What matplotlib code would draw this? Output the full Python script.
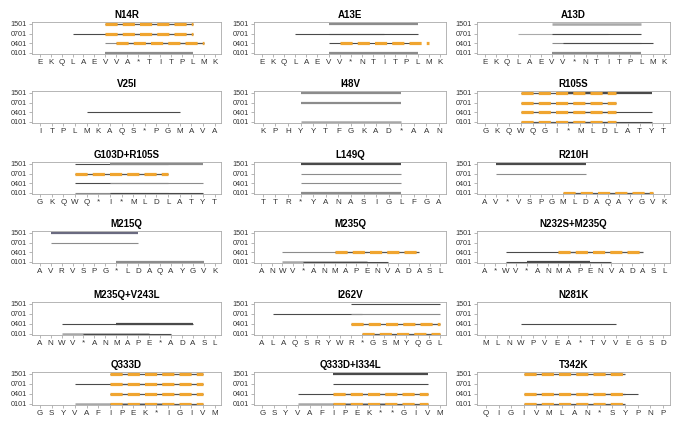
import matplotlib
matplotlib.use("Agg")
import matplotlib.pyplot as plt

plt.rcParams['font.family'] = ['Liberation Sans', 'DejaVu Sans']

alleles = ['0101', '0401', '0701', '1501']

titles = ['N14R', 'A13E', 'A13D',
          'V25I', 'I48V', 'R105S',
          'G103D+R105S', 'L149Q', 'R210H',
          'M215Q', 'M235Q', 'N232S+M235Q',
          'M235Q+V243L', 'I262V', 'N281K',
          'Q333D', 'Q333D+I334L', 'T342K']

residues = ['E K Q L A E V V A * T I T P L M K',
            'E K Q L A E V V * N T I T P L M K',
            'E K Q L A E V V * N T I T P L M K',
            'I T P L M K A Q S * P G M A V A',
            'K P H Y Y T F G K A D * A A N',
            'G K Q W Q G I * M L D L A T Y T',
            'G K Q W Q * I * M L D L A T Y T',
            'T T R * Y A N A S I G L F G A',
            'A V * V S P G M L D A Q A Y G V K',
            'A V R V S P G * L D A Q A Y G V K',
            'A N W V * A N M A P E N V A D A S L',
            'A * W V * A N M A P E N V A D A S L',
            'A N W V * A N M A P E * A D A S L',
            'A L A Q S R Y W R * G S M Y Q G L',
            'M L N W P V E A * T V V E G S D',
            'G S Y V A F I P E K * I G I V M',
            'G S Y V A F I P E K * * G I V M',
            'Q I G I V M L A N * S Y P N P']

# segments: (allele row, start residue index, end residue index, style)
seg_N14R = [(3, 6, 14, 'o'), (2, 3, 11, 'd'), (2, 6, 14, 'o'),
            (1, 6, 14, 'g'), (1, 7, 15, 'o'), (0, 6, 14, 'G')]
seg_A13E = [(3, 6, 14, 'G'), (2, 3, 11, 'd'), (2, 6, 14, 'd'),
            (1, 6, 14, 'd'), (1, 7, 15, 'O'), (0, 6, 14, 'G')]
seg_A13D = [(3, 6, 14, 'L'), (2, 3, 11, 'l'), (2, 6, 14, 'd'),
            (1, 6, 14, 'g'), (1, 7, 15, 'd'), (0, 6, 14, 'G')]
seg_V25I = [(1, 4, 12, 'd')]
seg_I48V = [(3, 3, 11, 'G'), (2, 3, 11, 'G'), (0, 3, 11, 'L')]
seg_R105S = [(3, 3, 11, 'o'), (3, 6, 14, 'D'), (2, 3, 11, 'o'),
             (1, 3, 11, 'o'), (1, 6, 14, 'd'), (0, 3, 11, 'o'), (0, 6, 14, 'd')]
seg_G103D = [(3, 3, 11, 'd'), (3, 6, 14, 'G'), (2, 3, 11, 'o'),
             (1, 3, 11, 'd'), (1, 6, 14, 'g'), (0, 3, 11, 'g'), (0, 6, 14, 'd')]
seg_L149Q = [(3, 3, 11, 'D'), (2, 3, 11, 'g'), (1, 3, 11, 'g'), (0, 3, 11, 'G')]
seg_R210H = [(3, 1, 9, 'D'), (2, 1, 9, 'g'), (0, 7, 15, 'o')]
seg_M215Q = [(3, 1, 9, 'B'), (2, 1, 9, 'g'), (0, 7, 15, 'G')]
seg_M235Q = [(1, 2, 10, 'g'), (1, 7, 15, 'o'), (0, 2, 10, 'L'), (0, 4, 12, 'd')]
seg_N232S = [(1, 2, 10, 'd'), (1, 7, 15, 'o'), (0, 2, 12, 'd'), (0, 4, 10, 'D')]
seg_M235V = [(1, 2, 14, 'd'), (1, 7, 14, 'D'), (0, 2, 10, 'L'), (0, 4, 12, 'd')]
seg_I262V = [(3, 8, 16, 'd'), (2, 1, 9, 'd'), (2, 8, 16, 'g'),
             (1, 8, 16, 'o'), (0, 9, 16, 'o')]
seg_N281K = [(1, 3, 11, 'd')]
seg_Q333D = [(3, 6, 14, 'o'), (2, 3, 11, 'd'), (2, 6, 14, 'o'),
             (1, 6, 14, 'o'), (0, 3, 11, 'L'), (0, 6, 14, 'o')]
seg_Q333DI = [(3, 6, 14, 'D'), (2, 6, 14, 'd'), (1, 3, 11, 'd'), (1, 6, 14, 'o'),
              (0, 3, 11, 'L'), (0, 6, 14, 'o')]
seg_T342K = [(3, 3, 11, 'o'), (1, 4, 12, 'd'), (1, 3, 11, 'o'),
             (0, 3, 11, 'o')]

segments = [seg_N14R, seg_A13E, seg_A13D, seg_V25I, seg_I48V, seg_R105S,
            seg_G103D, seg_L149Q, seg_R210H, seg_M215Q, seg_M235Q, seg_N232S,
            seg_M235V, seg_I262V, seg_N281K, seg_Q333D, seg_Q333DI, seg_T342K]

W, H = 683, 424
col_x = [(32, 221), (254, 446), (477, 670)]
row_y = [(22, 54), (91, 123), (162, 194), (231, 263), (302, 335), (372, 405)]

styles = {
    'd': dict(color='#4a4a4a', lw=0.8),
    'D': dict(color='#4a4a4a', lw=1.6),
    'g': dict(color='#8c8c8c', lw=0.8),
    'G': dict(color='#8c8c8c', lw=1.6),
    'l': dict(color='#aaaaaa', lw=0.8),
    'L': dict(color='#a8a8a8', lw=1.8),
    'B': dict(color='#6a6a80', lw=1.6),
}
ORANGE = '#f0a530'

fig = plt.figure(figsize=(W / 100, H / 100), dpi=100)

for i, title in enumerate(titles):
    r, c = divmod(i, 3)
    x0, x1 = col_x[c]
    y0, y1 = row_y[r]
    ax = fig.add_axes([x0 / W, 1 - y1 / H, (x1 - x0) / W, (y1 - y0) / H])
    labs = residues[i].split()
    n = len(labs)
    for (row, s, e, st) in segments[i]:
        if st in ('o', 'O'):
            if st == 'o':
                ax.plot([s, e], [row, row], color='#555555', lw=0.9,
                        solid_capstyle='butt', zorder=2)
            ax.plot([s, e], [row, row], color=ORANGE, lw=2.3,
                    dashes=(3.8, 1.6), solid_capstyle='butt',
                    dash_capstyle='butt', zorder=3)
        else:
            ax.plot([s, e], [row, row], solid_capstyle='butt', zorder=2,
                    **styles[st])
    ax.set_xlim(-0.7, n - 0.45)
    ax.set_ylim(-0.12, 3.2)
    ax.set_xticks(range(n))
    ax.set_xticklabels(labs, fontsize=5.8, color='#333333')
    ax.set_yticks(range(4))
    ax.set_yticklabels(alleles, fontsize=5.2, color='#333333')
    ax.tick_params(axis='both', length=2, width=0.5, color='#999999', pad=1.5)
    for sp in ax.spines.values():
        sp.set_color('#aaaaaa')
        sp.set_linewidth(0.6)
    ax.set_title(title, fontsize=7, fontweight='bold', pad=3)

fig.savefig('out.png', dpi=100)
